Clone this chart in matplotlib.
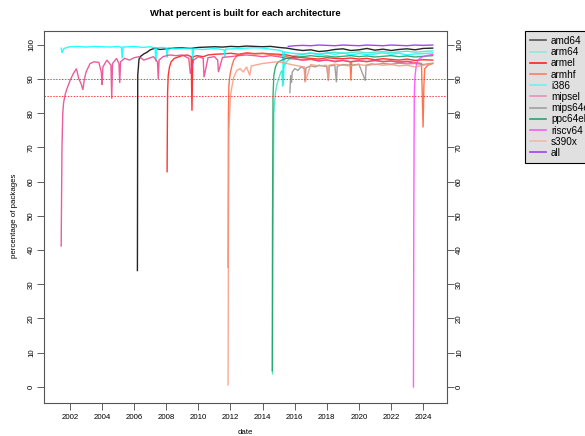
import matplotlib
matplotlib.use("Agg")
import matplotlib.pyplot as plt
from matplotlib.lines import Line2D

plt.rcParams['font.family'] = ['Liberation Sans', 'DejaVu Sans']

# ---------------- data (decimal year, percent built) ----------------
amd64_t = [2006.2, 2006.22, 2006.3, 2006.4, 2006.6, 2006.8, 2007.0, 2007.3, 2007.6, 2008.0, 2008.5, 2009.0, 2009.5,
           2010.0, 2010.5, 2011.0, 2011.5, 2012.0, 2012.5, 2013.0, 2013.5, 2014.0, 2014.5, 2015.0, 2015.5, 2016.0,
           2016.5, 2017.0, 2017.5, 2018.0, 2018.5, 2019.0, 2019.5, 2020.0, 2020.5, 2021.0, 2021.5, 2022.0, 2022.5,
           2023.0, 2023.5, 2024.0, 2024.6]
amd64_v = [34.0, 91.0, 95.8, 96.6, 97.3, 97.8, 98.5, 99.0, 98.6, 98.8, 99.0, 99.1, 98.9,
           99.2, 99.3, 99.4, 99.3, 99.5, 99.4, 99.6, 99.5, 99.4, 99.5, 99.2, 99.0, 98.6,
           98.3, 98.5, 98.0, 98.2, 98.6, 98.8, 98.3, 98.5, 98.9, 98.4, 98.7, 98.3, 98.6,
           98.8, 98.5, 98.9, 99.0]

arm64_t = [2014.62, 2014.64, 2014.7, 2014.8, 2014.9, 2015.0, 2015.1, 2015.2, 2015.25, 2015.3, 2015.5, 2015.7,
           2016.0, 2016.5, 2017.0, 2017.5, 2018.0, 2018.5, 2019.0, 2019.5, 2020.0, 2020.5, 2021.0, 2021.5,
           2022.0, 2022.5, 2023.0, 2023.5, 2024.0, 2024.6]
arm64_v = [3.8, 39.0, 80.0, 86.0, 88.5, 90.0, 91.5, 92.5, 87.7, 93.5, 95.0, 96.0,
           96.8, 97.2, 97.5, 97.3, 97.6, 97.8, 97.5, 97.7, 97.9, 97.6, 97.8, 98.0,
           97.7, 97.9, 98.1, 97.8, 98.0, 98.2]

armel_t = [2008.05, 2008.08, 2008.12, 2008.2, 2008.3, 2008.5, 2008.8, 2009.0, 2009.3, 2009.55, 2009.6, 2009.65,
           2009.9, 2010.3, 2010.6, 2011.0, 2011.5, 2012.0, 2012.5, 2013.0, 2013.5, 2014.0, 2014.5, 2015.0,
           2015.5, 2016.0, 2016.5, 2017.0, 2017.5, 2018.0, 2018.5, 2019.0, 2019.5, 2020.0, 2020.5, 2021.0,
           2021.5, 2022.0, 2022.5, 2023.0, 2023.5, 2024.0, 2024.6]
armel_v = [62.9, 86.0, 91.0, 93.5, 95.0, 96.0, 96.5, 96.8, 97.0, 96.5, 80.7, 96.4,
           96.8, 96.5, 97.0, 97.2, 97.3, 97.5, 97.2, 97.6, 97.4, 97.5, 97.3, 97.2,
           97.0, 96.5, 96.2, 96.0, 95.8, 96.2, 96.0, 95.9, 96.1, 95.8, 96.0, 95.6,
           95.9, 95.7, 95.5, 95.8, 95.4, 95.6, 95.5]

armhf_t = [2011.85, 2011.87, 2011.9, 2011.95, 2012.0, 2012.1, 2012.2, 2012.4, 2012.7, 2013.0, 2013.5, 2014.0,
           2014.5, 2015.0, 2015.5, 2016.0, 2016.5, 2017.0, 2017.5, 2018.0, 2018.5, 2019.0, 2019.45, 2019.5,
           2019.55, 2020.0, 2020.5, 2021.0, 2021.5, 2022.0, 2022.5, 2023.0, 2023.5, 2023.9, 2024.0, 2024.05,
           2024.1, 2024.3, 2024.6]
armhf_v = [34.9, 80.0, 88.0, 90.5, 92.0, 94.0, 95.5, 96.8, 97.2, 97.5, 97.3, 97.4,
           97.2, 97.0, 96.5, 96.0, 95.5, 95.8, 95.2, 95.6, 95.0, 95.4, 95.0, 89.5,
           95.1, 95.3, 95.0, 95.4, 95.1, 95.3, 95.0, 95.2, 94.8, 94.5, 75.8, 88.0,
           93.0, 94.0, 94.5]

i386_t = [2001.45, 2001.5, 2001.6, 2001.8, 2002.0, 2002.5, 2003.0, 2003.5, 2004.0, 2004.5, 2005.0, 2005.2,
          2005.25, 2005.3, 2006.0, 2006.5, 2007.0, 2007.3, 2007.35, 2007.4, 2007.8, 2008.0, 2008.05, 2008.1,
          2008.6, 2009.0, 2009.6, 2009.65, 2009.7, 2010.2, 2010.6, 2011.0, 2011.6, 2011.65, 2011.7, 2012.2,
          2013.0, 2013.5, 2014.0, 2014.6, 2015.0, 2015.25, 2015.3, 2015.35, 2015.8, 2016.5, 2017.0, 2017.5,
          2018.0, 2018.5, 2019.0, 2019.5, 2020.0, 2020.5, 2021.0, 2021.5, 2022.0, 2022.5, 2023.0, 2023.5,
          2024.0, 2024.6]
i386_v = [99.0, 97.6, 98.8, 99.2, 99.4, 99.5, 99.3, 99.5, 99.4, 99.3, 99.5, 99.2,
          96.0, 99.3, 99.5, 99.2, 99.4, 99.0, 95.0, 99.1, 99.2, 99.0, 96.2, 99.1,
          98.8, 98.9, 99.0, 95.8, 98.8, 98.6, 98.7, 98.9, 98.5, 96.5, 98.7, 98.8,
          99.0, 99.1, 99.0, 98.6, 98.4, 98.0, 88.3, 97.9, 97.5, 97.3, 97.6, 97.0,
          97.5, 97.2, 97.6, 97.0, 97.4, 97.1, 97.3, 97.6, 97.2, 97.5, 97.0, 97.3,
          97.4, 97.6]

mipsel_t = [2001.45, 2001.5, 2001.55, 2001.6, 2001.7, 2001.8, 2002.0, 2002.2, 2002.4, 2002.55, 2002.7, 2002.8,
            2002.9, 2003.0, 2003.25, 2003.5, 2003.8, 2003.95, 2004.0, 2004.05, 2004.3, 2004.55, 2004.6, 2004.65,
            2004.9, 2005.05, 2005.1, 2005.15, 2005.4, 2005.7, 2006.0, 2006.3, 2006.6, 2006.9, 2007.2, 2007.45,
            2007.5, 2007.55, 2007.8, 2008.2, 2008.6, 2009.0, 2009.4, 2009.5, 2009.7, 2010.0, 2010.3, 2010.35,
            2010.6, 2011.0, 2011.2, 2011.25, 2011.5, 2012.0, 2012.5, 2013.0, 2013.5, 2014.0, 2014.5, 2015.0,
            2015.5, 2016.0, 2016.5, 2017.0, 2017.5, 2018.0, 2018.5, 2019.0, 2019.5, 2020.0, 2020.5, 2021.0,
            2021.5, 2022.0, 2022.5, 2023.0, 2023.3]
mipsel_v = [41.2, 70.0, 80.0, 83.0, 85.5, 87.0, 89.5, 91.5, 93.0, 90.0, 88.5, 86.8,
            90.0, 92.0, 94.5, 95.0, 94.8, 92.0, 88.3, 93.5, 95.5, 94.0, 84.2, 94.5,
            96.0, 94.5, 88.8, 95.0, 96.0, 95.5, 96.2, 96.5, 95.5, 96.0, 96.5, 95.0,
            90.0, 95.5, 96.5, 97.0, 96.8, 97.0, 96.0, 91.5, 95.5, 96.5, 96.0, 90.5,
            96.2, 96.5, 95.5, 92.0, 96.3, 96.5, 96.8, 97.0, 96.8, 96.5, 96.8, 96.5,
            96.0, 95.8, 95.5, 95.7, 95.3, 95.5, 95.2, 95.4, 95.0, 95.3, 95.1, 95.4,
            95.0, 95.2, 94.8, 95.0, 94.8]

mips64el_t = [2015.7, 2015.75, 2015.8, 2015.85, 2016.0, 2016.2, 2016.4, 2016.6, 2016.65, 2016.7, 2017.0, 2017.3,
              2017.5, 2018.0, 2018.1, 2018.15, 2018.5, 2018.6, 2018.65, 2019.0, 2019.5, 2020.0, 2020.4, 2020.45,
              2020.8, 2021.0, 2021.5, 2022.0, 2022.5, 2023.0, 2023.5, 2024.0, 2024.6]
mips64el_v = [86.0, 91.0, 88.9, 92.0, 93.0, 92.5, 93.5, 93.0, 89.2, 93.2, 93.8, 93.5,
              94.0, 93.6, 89.5, 93.8, 94.0, 89.0, 93.7, 94.2, 94.0, 94.3, 89.5, 94.0,
              94.4, 94.2, 94.5, 94.3, 94.6, 94.4, 94.5, 94.2, 94.6]

ppc64el_t = [2014.6, 2014.62, 2014.65, 2014.7, 2014.8, 2014.9, 2015.0, 2015.2, 2015.5, 2016.0, 2016.5, 2017.0,
             2017.5, 2018.0, 2018.5, 2019.0, 2019.5, 2020.0, 2020.5, 2021.0, 2021.5, 2022.0, 2022.5, 2023.0,
             2023.5, 2024.0, 2024.6]
ppc64el_v = [4.7, 50.0, 85.0, 91.0, 93.5, 94.5, 95.0, 95.5, 96.0, 96.3, 96.5, 96.8,
             96.5, 96.7, 96.4, 96.6, 96.8, 96.5, 96.7, 96.4, 96.6, 96.8, 96.5, 96.7,
             96.4, 96.6, 96.8]

riscv64_t = [2023.4, 2023.42, 2023.45, 2023.5, 2023.6, 2023.7, 2023.8, 2024.0, 2024.2, 2024.4, 2024.6]
riscv64_v = [0.0, 48.0, 85.0, 91.0, 94.7, 95.5, 96.0, 96.5, 96.8, 97.0, 97.2]

s390x_t = [2011.85, 2011.87, 2011.9, 2012.0, 2012.1, 2012.2, 2012.4, 2012.6, 2012.8, 2013.0, 2013.2, 2013.3,
           2013.5, 2014.0, 2014.5, 2015.0, 2015.5, 2016.0, 2016.6, 2016.65, 2017.0, 2017.5, 2018.0, 2018.1,
           2018.15, 2018.5, 2019.0, 2019.5, 2020.0, 2020.5, 2021.0, 2021.5, 2022.0, 2022.5, 2023.0, 2023.5,
           2024.0, 2024.6]
s390x_v = [0.6, 40.0, 75.0, 85.0, 88.0, 90.5, 92.5, 93.0, 92.0, 93.5, 91.0, 93.8,
           94.0, 94.5, 94.8, 95.0, 94.5, 94.0, 93.5, 89.0, 94.2, 93.8, 94.0, 89.5,
           94.0, 94.3, 94.0, 93.8, 94.2, 93.9, 94.3, 94.0, 94.2, 93.8, 94.0, 93.5,
           94.0, 94.5]

all_t = [2015.6, 2016.0, 2016.5, 2017.0, 2017.5, 2018.0, 2018.5, 2019.0, 2019.5, 2020.0, 2020.5, 2021.0,
         2021.5, 2022.0, 2022.5, 2023.0, 2023.5, 2024.0, 2024.6]
all_v = [99.5, 99.7, 99.8, 99.7, 99.9, 99.8, 99.7, 99.9, 99.8, 99.7, 99.9, 99.8,
         99.7, 99.9, 99.8, 99.7, 99.9, 99.8, 99.9]

arch_names = ["amd64", "arm64", "armel", "armhf", "i386", "mipsel", "mips64el", "ppc64el", "riscv64", "s390x", "all"]
thresholds = [90, 85]
year_ticks = [2002, 2004, 2006, 2008, 2010, 2012, 2014, 2016, 2018, 2020, 2022, 2024]
pct_ticks = [0, 10, 20, 30, 40, 50, 60, 70, 80, 90, 100]

series = {
    "amd64": (amd64_t, amd64_v), "arm64": (arm64_t, arm64_v), "armel": (armel_t, armel_v),
    "armhf": (armhf_t, armhf_v), "i386": (i386_t, i386_v), "mipsel": (mipsel_t, mipsel_v),
    "mips64el": (mips64el_t, mips64el_v), "ppc64el": (ppc64el_t, ppc64el_v),
    "riscv64": (riscv64_t, riscv64_v), "s390x": (s390x_t, s390x_v), "all": (all_t, all_v),
}
line_colors = {"amd64": "#000000", "arm64": "#40E0C0", "armel": "#FF1010", "armhf": "#FF5A30",
               "i386": "#00FFFF", "mipsel": "#E8408A", "mips64el": "#909090", "ppc64el": "#1E9A60",
               "riscv64": "#FF40FF", "s390x": "#F89880", "all": "#A020F0"}
legend_colors = {"amd64": "#555555", "arm64": "#90E8D8", "armel": "#FF2020", "armhf": "#F58060",
                 "i386": "#70F0F0", "mipsel": "#E890B8", "mips64el": "#A0A0A0", "ppc64el": "#30A070",
                 "riscv64": "#F060F0", "s390x": "#F8B8A8", "all": "#A040F0"}

W, H = 585, 436
fig = plt.figure(figsize=(W / 100, H / 100), dpi=100)
ax = fig.add_axes([44 / W, 1 - 403 / H, (447 - 44) / W, (403 - 31) / H])

for name in arch_names:
    t, v = series[name]
    ax.plot(t, v, color=line_colors[name], lw=1.0, alpha=0.85, solid_joinstyle='miter')

for th in thresholds:
    ax.axhline(th, color="#FF4040", lw=0.7, ls=(0, (1.5, 1.5)))

ax.set_xlim(2000.38, 2025.49)
ax.set_ylim(-4.7, 104.0)

ax.set_xticks(year_ticks)
ax.set_xticklabels([str(y) for y in year_ticks])
ax.set_yticks(pct_ticks)
ax.set_yticklabels([str(p) for p in pct_ticks], rotation=90, va='center')
ax.tick_params(axis='both', direction='out', length=5, width=0.6, color='#444444',
               labelsize=5.7, pad=3)
ax.tick_params(axis='y', pad=1.5)
ax.tick_params(axis='y', which='both', right=True, labelright=True)
for lab in ax.get_yticklabels(which='both'):
    lab.set_rotation(90)
    lab.set_va('center')
for s in ax.spines.values():
    s.set_color('#555555')
    s.set_linewidth(0.8)

fig.text(245.5 / W, 1 - 432 / H, "date", ha='center', va='center', fontsize=5.7)
fig.text(14 / W, 1 - 216 / H, "percentage of packages", ha='center', va='center',
         rotation=90, fontsize=5.7)
fig.text(245.5 / W, 1 - 13 / H, "What percent is built for each architecture",
         ha='center', va='center', fontsize=6.8, fontweight='bold')

handles = [Line2D([0], [0], color=legend_colors[n], lw=1.2) for n in arch_names]
leg = fig.legend(handles, arch_names, loc='upper left', bbox_to_anchor=(525 / W, 1 - 31 / H),
                 fontsize=7.2, frameon=True, fancybox=False, facecolor='#E0E0E0', edgecolor='black',
                 framealpha=1, handlelength=1.6, handletextpad=0.5, labelspacing=0.12,
                 borderpad=0.5, borderaxespad=0)
leg.get_frame().set_linewidth(0.8)

fig.savefig("out.png", dpi=100)
